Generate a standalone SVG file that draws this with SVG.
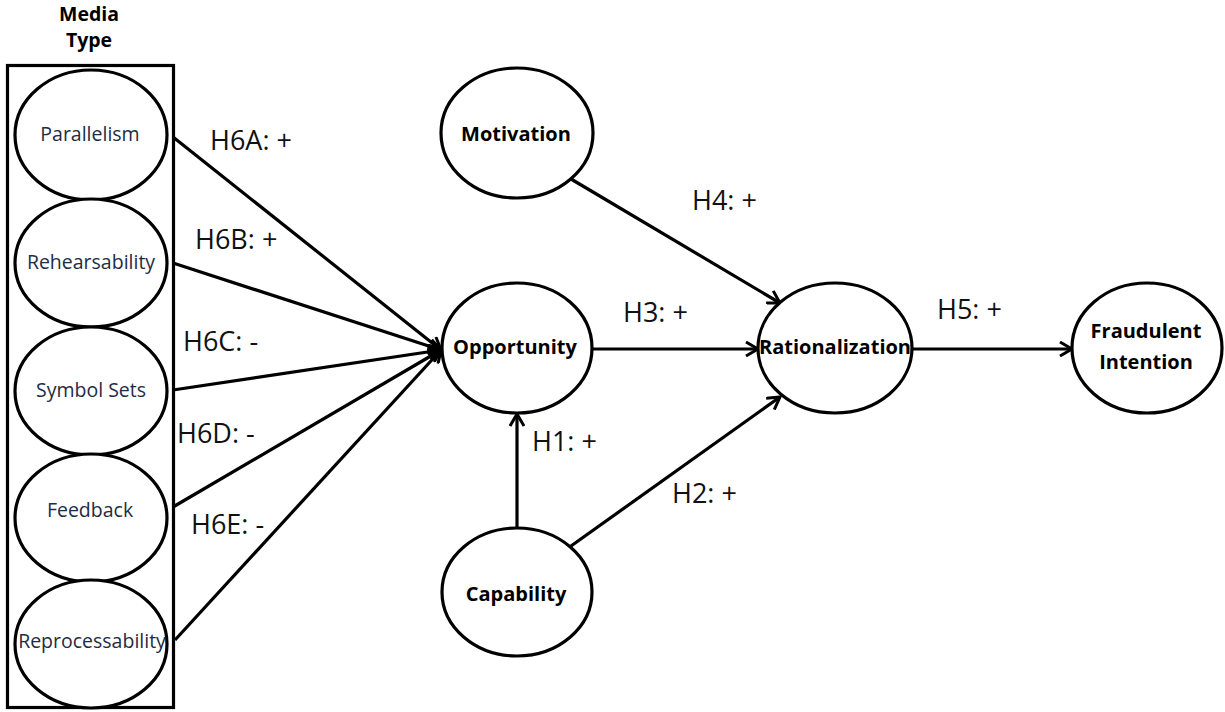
<svg xmlns="http://www.w3.org/2000/svg" width="1225" height="712" viewBox="0 0 1225 712">
  <style>
    .node { fill: #ffffff; stroke: #000000; stroke-width: 3.2; }
    .frame { fill: none; stroke: #000000; stroke-width: 3.2; }
    .edge { fill: none; stroke: #000000; stroke-width: 3.2; marker-end: url(#arrow); }
    .lbl { font-family: "Open Sans", "DejaVu Sans", sans-serif; font-size: 27px; fill: #111111; }
    .core { font-family: "Open Sans", "DejaVu Sans", sans-serif; font-size: 20px; font-weight: bold; fill: #000000; text-anchor: middle; }
    .media { font-family: "Open Sans", "DejaVu Sans", sans-serif; font-size: 19.5px; fill: #1e2c44; text-anchor: middle; }
    .title { font-family: "Open Sans", "DejaVu Sans", sans-serif; font-size: 19.5px; font-weight: bold; fill: #000000; text-anchor: middle; }
  </style>
  <defs>
    <marker id="arrow" viewBox="0 0 16 16" markerWidth="16" markerHeight="16" refX="14" refY="8" orient="auto" markerUnits="userSpaceOnUse">
      <path d="M2,1 L14,8 L2,15" fill="none" stroke="#000000" stroke-width="3"/>
    </marker>
  </defs>
  <rect width="1225" height="712" fill="#ffffff"/>

  <!-- Media type group -->
  <g id="media-type">
    <text class="title" x="89" y="21">Media</text>
    <text class="title" x="89" y="47">Type</text>
    <rect class="frame" x="7.5" y="65.5" width="166" height="642"/>
  </g>

  <g id="parallelism">
    <ellipse class="node" cx="91" cy="135" rx="76" ry="65"/>
    <text class="media" x="90" y="141">Parallelism</text>
  </g>
  <g id="rehearsability">
    <ellipse class="node" cx="91" cy="263" rx="76" ry="64"/>
    <text class="media" x="91" y="269">Rehearsability</text>
  </g>
  <g id="symbol-sets">
    <ellipse class="node" cx="91" cy="391" rx="76" ry="64"/>
    <text class="media" x="91" y="397">Symbol Sets</text>
  </g>
  <g id="feedback">
    <ellipse class="node" cx="91" cy="518" rx="76" ry="64"/>
    <text class="media" x="90" y="517">Feedback</text>
  </g>
  <g id="reprocessability">
    <ellipse class="node" cx="91" cy="644" rx="76" ry="64"/>
    <text class="media" x="92" y="648">Reprocessability</text>
  </g>

  <!-- Connectors -->
  <g id="connectors">
    <line class="edge" x1="173" y1="137" x2="441" y2="350"/>
    <line class="edge" x1="173" y1="263" x2="441" y2="350"/>
    <line class="edge" x1="173" y1="390" x2="441" y2="350"/>
    <line class="edge" x1="173" y1="507" x2="441" y2="350"/>
    <line class="edge" x1="175" y1="640" x2="441" y2="350"/>
    <line class="edge" x1="571" y1="179" x2="780" y2="303"/>
    <line class="edge" x1="593" y1="349" x2="758" y2="349"/>
    <line class="edge" x1="517" y1="528" x2="517" y2="414"/>
    <line class="edge" x1="571" y1="546" x2="780" y2="397"/>
    <line class="edge" x1="912" y1="349" x2="1072" y2="349"/>
  </g>

  <!-- Hypothesis labels -->
  <g id="labels">
    <text class="lbl" x="210" y="150">H6A: +</text>
    <text class="lbl" x="195" y="249">H6B: +</text>
    <text class="lbl" x="183" y="351">H6C: -</text>
    <text class="lbl" x="177" y="443">H6D: -</text>
    <text class="lbl" x="191" y="534">H6E: -</text>
    <text class="lbl" x="692" y="210">H4: +</text>
    <text class="lbl" x="623" y="322">H3: +</text>
    <text class="lbl" x="532" y="451">H1: +</text>
    <text class="lbl" x="672" y="503">H2: +</text>
    <text class="lbl" x="937" y="319">H5: +</text>
  </g>

  <g id="motivation">
    <ellipse class="node" cx="517" cy="133" rx="76" ry="65"/>
    <text class="core" x="516" y="141">Motivation</text>
  </g>
  <g id="opportunity">
    <ellipse class="node" cx="517" cy="348" rx="75" ry="65"/>
    <text class="core" x="515" y="354">Opportunity</text>
  </g>
  <g id="capability">
    <ellipse class="node" cx="517" cy="592" rx="75" ry="64"/>
    <text class="core" x="516" y="601">Capability</text>
  </g>
  <g id="rationalization">
    <ellipse class="node" cx="835" cy="348" rx="77" ry="65"/>
    <text class="core" x="835" y="354">Rationalization</text>
  </g>
  <g id="fraudulent-intention">
    <ellipse class="node" cx="1147" cy="348" rx="75" ry="65"/>
    <text class="core" x="1146" y="338">Fraudulent</text>
    <text class="core" x="1146" y="369">Intention</text>
  </g>
</svg>
